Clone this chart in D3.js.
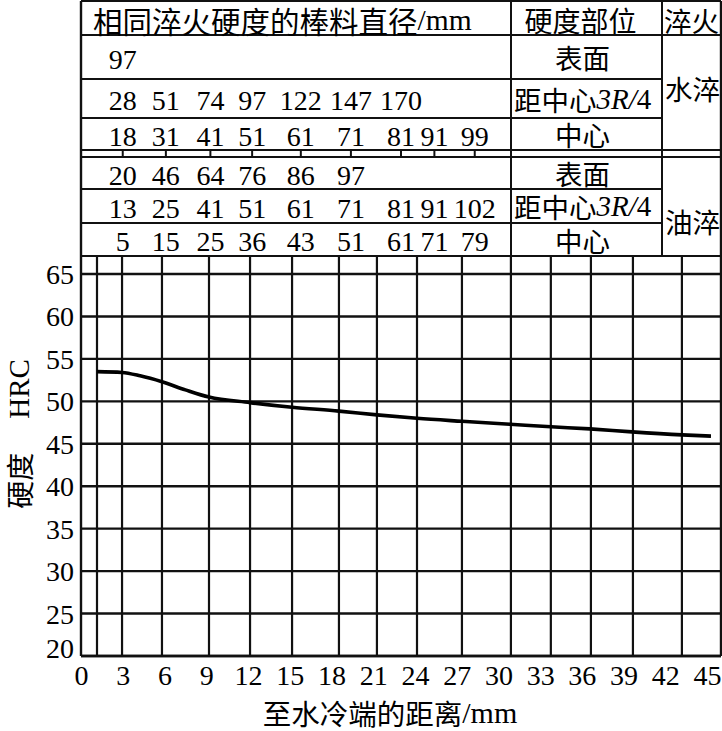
<!DOCTYPE html>
<html><head><meta charset="utf-8">
<script src="https://cdn.jsdelivr.net/npm/d3@7"></script>
<style>body{margin:0;background:#fff} svg{display:block}</style>
</head><body>
<svg id="c" width="722" height="731"></svg>
<script>
// ---------- data ----------
const xTicks = [0, 3, 6, 9, 12, 15, 18, 21, 24, 27, 30, 33, 36, 39, 42, 45];
const yTicks = [20, 25, 30, 35, 40, 45, 50, 55, 60, 65];
// vertical grid lines of the chart (distance from quenched end, mm)
const gridMM = [1.15, 2.95, 5.82, 9.2, 12.15, 15.17, 18.54, 21.27, 24.15, 27.38, 30.9, 33.77, 36.65, 39.67, 43.19];
// hardness curve
const curveMM  = [1.15, 2.95, 4.25, 5.82, 7.5, 9.2, 12.15, 15.17, 18.54, 21.27, 24.15, 27.38, 30.83, 33.78, 36.58, 39.6, 43.2, 45.28];
const curveHRC = [53.5, 53.4, 53.0, 52.3, 51.35, 50.5, 49.85, 49.3, 48.85, 48.4, 48.0, 47.65, 47.3, 47.0, 46.75, 46.4, 46.05, 45.9];
// equivalent bar-diameter table (mm), columns aligned to Jominy distances
const tableColsMM = [3, 6.1, 9.3, 12.3, 15.8, 19.4, 23.0, 25.4, 28.3];
const waterSurface = [97];
const water34      = [28, 51, 74, 97, 122, 147, 170];
const waterCenter  = [18, 31, 41, 51, 61, 71, 81, 91, 99];
const oilSurface   = [20, 46, 64, 76, 86, 97];
const oil34        = [13, 25, 41, 51, 61, 71, 81, 91, 102];
const oilCenter    = [5, 15, 25, 36, 43, 51, 61, 71, 79];
const positionLabels = ["表面", "距中心", "中心", "表面", "距中心", "中心"];
const quenchLabels = ["水淬", "油淬"];
const headerText = "相同淬火硬度的棒料直径";
const headerUnit = "/mm";
const headerPos = "硬度部位";
const headerQuench = "淬火";
const xTitle = "至水冷端的距离";
const yTitleCJK = "硬度";
const yTitleUnit = "HRC";

// ---------- layout ----------
const svg = d3.select("#c");
const L = 81, R = 721, C1 = 511, C2 = 662;
const x = d3.scaleLinear().domain([0, 46]).range([L, R]);
const y = d3.scaleLinear().domain([20, 67.12]).range([656, 256]);
const topY = y.range()[1], botY = y.range()[0];
const serif = "'Liberation Serif','Times New Roman',serif";
const cjk = "'Noto Sans CJK SC','Noto Sans',sans-serif";
const ink = "#111";

svg.append("rect").attr("width", 722).attr("height", 731).attr("fill", "#fff");

// ---------- chart grid ----------
const g = svg.append("g");
g.selectAll("line.h").data(yTicks).join("line")
  .attr("x1", L).attr("x2", R).attr("y1", d => y(d)).attr("y2", d => y(d))
  .attr("stroke", ink).attr("stroke-width", 2.4);
g.selectAll("line.v").data(gridMM).join("line")
  .attr("x1", d => x(d)).attr("x2", d => x(d)).attr("y1", topY).attr("y2", botY)
  .attr("stroke", ink).attr("stroke-width", 2.2);

// axes (labels only)
const xa = svg.append("g").attr("transform", `translate(0,${botY})`)
  .call(d3.axisBottom(x).tickValues(xTicks).tickSize(0).tickPadding(10));
xa.select(".domain").remove();
xa.attr("font-family", serif);
xa.selectAll("text").attr("font-family", serif).attr("font-size", 28).attr("fill", "#000")
  .attr("dy", "0.68em");
const ya = svg.append("g").attr("transform", `translate(${L},0)`)
  .call(d3.axisLeft(y).tickValues(yTicks).tickSize(0).tickPadding(7));
ya.select(".domain").remove();
ya.attr("font-family", serif);
ya.selectAll("text").attr("font-family", serif).attr("font-size", 28).attr("fill", "#000")
  .attr("dy", d => d === 20 ? "0.05em" : "0.34em");

// curve
const pts = curveMM.map((m, i) => [m, curveHRC[i]]);
svg.append("path").datum(pts)
  .attr("d", d3.line().x(d => x(d[0])).y(d => y(d[1])).curve(d3.curveMonotoneX))
  .attr("fill", "none").attr("stroke", "#000").attr("stroke-width", 3.6).attr("stroke-linecap", "butt");

// ---------- table ----------
const t = svg.append("g");
const rowTop = [35, 79, 118, 157, 189, 223];
const rowBot = [79, 118, 150, 189, 223, topY];
const hFull = [1, 35, 150, 157, topY];
const hPart = [79, 118, 189, 223];
t.selectAll("line.hf").data(hFull).join("line")
  .attr("x1", L).attr("x2", R).attr("y1", d => d).attr("y2", d => d)
  .attr("stroke", ink).attr("stroke-width", 2);
t.selectAll("line.hp").data(hPart).join("line")
  .attr("x1", L).attr("x2", C2).attr("y1", d => d).attr("y2", d => d)
  .attr("stroke", ink).attr("stroke-width", 2);
[C1, C2].forEach(cx => t.append("line").attr("x1", cx).attr("x2", cx).attr("y1", 1).attr("y2", topY)
  .attr("stroke", ink).attr("stroke-width", 2));
[L, R].forEach(cx => svg.append("line").attr("x1", cx).attr("x2", cx).attr("y1", 1).attr("y2", botY)
  .attr("stroke", ink).attr("stroke-width", 2.4));
svg.append("line").attr("x1", L).attr("x2", R).attr("y1", botY).attr("y2", botY)
  .attr("stroke", ink).attr("stroke-width", 2.6);
// ticks in the double line
t.selectAll("line.tk").data(tableColsMM).join("line")
  .attr("x1", d => x(d)).attr("x2", d => x(d)).attr("y1", 150).attr("y2", 157)
  .attr("stroke", ink).attr("stroke-width", 2);

// header texts
const h1 = t.append("text").attr("x", 93).attr("y", 20).attr("dominant-baseline", "central")
  .attr("font-size", 29.5).attr("fill", "#000");
h1.append("tspan").attr("font-family", cjk).text(headerText);
h1.append("tspan").attr("font-family", serif).text(headerUnit);
t.append("text").attr("x", (C1 + C2) / 2 - 6).attr("y", 20).attr("dominant-baseline", "central")
  .attr("text-anchor", "middle").attr("font-family", cjk).attr("font-size", 28).text(headerPos);
t.append("text").attr("x", (C2 + R) / 2).attr("y", 20).attr("dominant-baseline", "central")
  .attr("text-anchor", "middle").attr("font-family", cjk).attr("font-size", 27.5).text(headerQuench);

// number rows
const rows = [waterSurface, water34, waterCenter, oilSurface, oil34, oilCenter];
rows.forEach((vals, ri) => {
  const cy = (rowTop[ri] + rowBot[ri]) / 2 + 2;
  t.selectAll(null).data(vals).join("text")
    .attr("x", (d, i) => x(tableColsMM[i])).attr("y", cy).attr("dy", "0.34em")
    .attr("text-anchor", "middle").attr("font-family", serif).attr("font-size", 28)
    .text(d => d);
  const lt = t.append("text").attr("y", (rowTop[ri] + rowBot[ri]) / 2)
    .attr("dominant-baseline", "central").attr("font-size", 27).attr("fill", "#000");
  const lab = positionLabels[ri];
  if (lab === "距中心") {
    lt.attr("x", C1 + 3).attr("text-anchor", "start");
    lt.append("tspan").attr("font-family", cjk).attr("font-size", 27.5).text(lab);
    lt.append("tspan").attr("font-family", serif).attr("font-size", 29).attr("font-style", "italic").text("3R/");
    lt.append("tspan").attr("font-family", serif).attr("font-size", 29).text("4");
  } else {
    lt.attr("x", (C1 + C2) / 2 - 4).attr("text-anchor", "middle")
      .append("tspan").attr("font-family", cjk).attr("font-size", 27.5).text(lab);
  }
});
t.append("text").attr("x", (C2 + R) / 2 + 1).attr("y", 88).attr("dominant-baseline", "central")
  .attr("text-anchor", "middle").attr("font-family", cjk).attr("font-size", 27.5).text(quenchLabels[0]);
t.append("text").attr("x", (C2 + R) / 2 + 1).attr("y", 221).attr("dominant-baseline", "central")
  .attr("text-anchor", "middle").attr("font-family", cjk).attr("font-size", 27.5).text(quenchLabels[1]);

// axis titles
const xt = svg.append("text").attr("x", 390).attr("y", 712).attr("dominant-baseline", "central")
  .attr("text-anchor", "middle").attr("font-size", 28.5);
xt.append("tspan").attr("font-family", cjk).text(xTitle);
xt.append("tspan").attr("font-family", serif).attr("font-size", 30).text(headerUnit);
const yt = svg.append("text").attr("transform", "translate(19,434) rotate(-90)")
  .attr("dominant-baseline", "central").attr("text-anchor", "middle").attr("font-size", 28);
yt.append("tspan").attr("font-family", cjk).text(yTitleCJK);
yt.append("tspan").attr("font-family", serif).attr("font-size", 29).attr("dx", 34).text(yTitleUnit);
</script>
</body></html>
